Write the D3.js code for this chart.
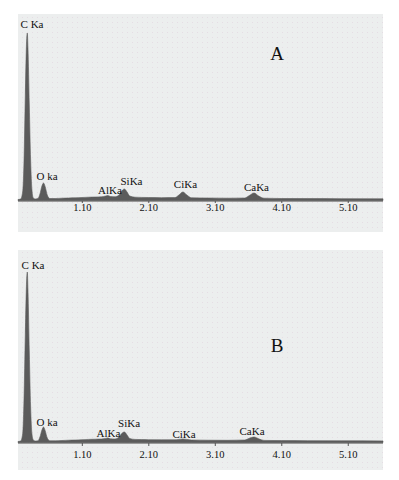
<!DOCTYPE html>
<html>
<head>
<meta charset="utf-8">
<script src="https://cdn.jsdelivr.net/npm/d3@7"></script>
<style>
  body { margin: 0; background: #fff; }
  text { font-family: "Liberation Serif", "DejaVu Serif", serif; fill: #111; }
</style>
</head>
<body>
<script>
// energy grid (keV) and counts
var energy  = [0.14, 0.18, 0.21, 0.23, 0.25, 0.27, 0.28, 0.29, 0.31, 0.33, 0.35, 0.37, 0.40, 0.44, 0.47, 0.50, 0.525, 0.55, 0.58, 0.62,
               0.70, 0.80, 0.90, 1.00, 1.10, 1.20, 1.30, 1.40, 1.46, 1.49, 1.53, 1.60, 1.66, 1.70, 1.74, 1.78, 1.82, 1.90, 2.00, 2.10,
               2.30, 2.50, 2.56, 2.62, 2.68, 2.75, 3.00, 3.30, 3.55, 3.62, 3.69, 3.76, 3.84, 4.10, 4.50, 5.00, 5.63];
var countsA = [0.5, 1, 8, 38, 105, 160, 167, 152, 95, 40, 10, 2, 1, 1.5, 6, 14, 17, 13, 5, 1.5,
               1.5, 1.8, 2, 2.2, 2.5, 2.8, 3, 3.2, 4, 4.5, 3.5, 3.2, 5, 9, 11, 8, 4, 2.8, 2.6, 2.5,
               2.3, 2.4, 5, 8, 5, 2.2, 2, 1.8, 2, 4.5, 7, 4, 1.8, 1.5, 1.4, 1.3, 1.2];
var countsB = [0.5, 1, 8, 42, 108, 162, 170, 152, 90, 35, 8, 2, 1, 1.2, 5, 12, 15, 11, 4, 1.2,
               1.2, 1.5, 1.8, 2, 2.3, 2.6, 2.8, 3, 3.6, 4, 3.2, 3, 5, 8.5, 10, 7, 3.5, 2.6, 2.4, 2.3,
               2.2, 2.2, 2.6, 3, 2.6, 2, 1.8, 1.7, 2, 3.8, 5, 3.2, 1.6, 1.4, 1.3, 1.2, 1.1];

var tickValues = [1.10, 2.10, 3.10, 4.10, 5.10];
var peakNames  = ["C Ka", "O ka", "AlKa", "SiKa", "CiKa", "CaKa"];

// label anchors (keV, count level) for each panel
var labelKeVA = [0.351, 0.576, 1.524, 1.847, 2.659, 3.727];
var labelCntA = [172.5, 20.5, 6.5, 15.5, 12.5, 9.5];
var labelKeVB = [0.366, 0.576, 1.501, 1.81, 2.637, 3.66];
var labelCntB = [173.5, 16.5, 5.5, 15.5, 4.5, 7.5];

var W = 399, H = 480;
var svg = d3.select("body").append("svg")
    .attr("width", W)
    .attr("height", H);

// dotted grey paper look
var pat = svg.append("defs").append("pattern")
    .attr("id", "dots")
    .attr("width", 5).attr("height", 5)
    .attr("patternUnits", "userSpaceOnUse");
pat.append("rect").attr("width", 5).attr("height", 5).attr("fill", "#eceeee");
pat.append("rect").attr("x", 2).attr("y", 2).attr("width", 1).attr("height", 1).attr("fill", "#e6dce4");

var x = d3.scaleLinear()
    .domain([0.14, 5.63])
    .range([18, 383]);

function panel(opt) {
    var g = svg.append("g");

    g.append("rect")
        .attr("x", 18).attr("y", opt.top)
        .attr("width", 365).attr("height", opt.bottom - opt.top)
        .attr("fill", "url(#dots)");

    var y = d3.scaleLinear()
        .domain([0, 170])
        .range([opt.base, opt.base - 170]);

    var pts = energy.map(function(e, i) { return [e, opt.counts[i]]; });

    // light band under the trace
    g.append("rect")
        .attr("x", 18).attr("y", opt.base)
        .attr("width", 365).attr("height", 2)
        .attr("fill", "#9a9a9a");

    var area = d3.area()
        .x(function(d) { return x(d[0]); })
        .y0(opt.base + 0.5)
        .y1(function(d) { return y(d[1]); })
        .curve(d3.curveMonotoneX);

    g.append("path")
        .datum(pts)
        .attr("d", area)
        .attr("fill", "#5b5b5b")
        .attr("stroke", "#5b5b5b")
        .attr("stroke-width", 0.6);

    // axis: ticks only below baseline
    var axis = d3.axisBottom(x)
        .tickValues(tickValues)
        .tickFormat(d3.format(".2f"))
        .tickSize(opt.tick)
        .tickPadding(opt.pad);
    var ax = g.append("g")
        .attr("transform", "translate(0," + (opt.base + 1) + ")")
        .call(axis);
    ax.select(".domain").remove();
    ax.selectAll("line").attr("stroke", "#555");
    ax.selectAll("text")
        .style("font-size", "10.5px")
        .style("font-family", "'Liberation Serif', serif")
        .attr("fill", "#111");

    // peak labels
    g.selectAll(".peak")
        .data(peakNames)
        .enter().append("text")
        .attr("class", "peak")
        .attr("x", function(d, i) { return x(opt.labelKeV[i]); })
        .attr("y", function(d, i) { return y(opt.labelCnt[i]); })
        .attr("text-anchor", "middle")
        .style("font-size", "11px")
        .text(function(d) { return d; });

    // panel letter
    g.append("text")
        .attr("x", 277)
        .attr("y", opt.letterY)
        .attr("text-anchor", "middle")
        .style("font-size", "19px")
        .text(opt.letter);
}

panel({ top: 14, bottom: 232, base: 200, counts: countsA, labelKeV: labelKeVA, labelCnt: labelCntA,
        tick: 2, pad: 1, letter: "A", letterY: 60 });
panel({ top: 250, bottom: 470, base: 442, counts: countsB, labelKeV: labelKeVB, labelCnt: labelCntB,
        tick: 3, pad: 5, letter: "B", letterY: 352 });
</script>
</body>
</html>
